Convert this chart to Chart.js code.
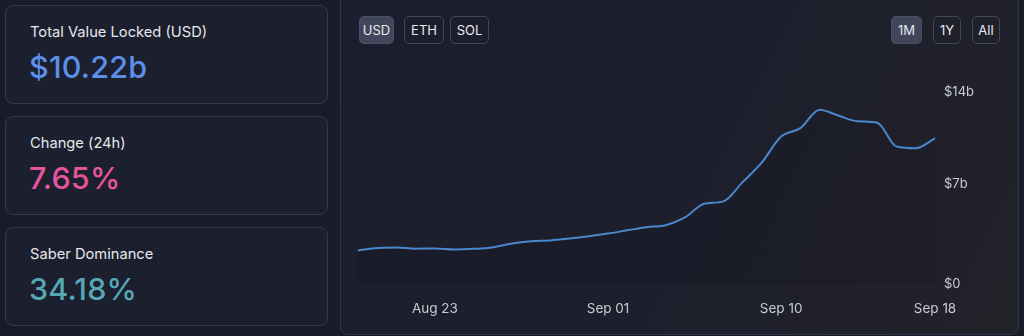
<!DOCTYPE html>
<html>
<head>
<meta charset="utf-8">
<script src="https://cdn.jsdelivr.net/npm/chart.js@4/dist/chart.umd.min.js"></script>
<style>
  html, body { margin: 0; padding: 0; }
  body {
    width: 1024px; height: 336px; overflow: hidden; position: relative;
    background: #191c28; font-family: Inter, "Noto Sans", sans-serif; color: #e4e5ea;
  }
  .card {
    position: absolute; left: 5px; width: 323px; height: 99px; box-sizing: border-box;
    border: 1px solid #343949; border-radius: 8px; background: #1c1f2d;
  }
  .card .lbl { position: absolute; left: 24px; top: 17px; font-size: 14.7px; color: #e6e7ec; }
  .card .val { position: absolute; left: 23px; top: 42px; font-size: 30.5px; font-weight: 500; letter-spacing: 0.2px; }
  .panel {
    position: absolute; left: 340px; top: -12px; width: 679px; height: 347px; box-sizing: border-box;
    border: 1px solid #30354a; border-radius: 8px;
    background: linear-gradient(115deg, #1b1e2d 0%, #1d1f2c 55%, #222229 100%);
  }
  .btn {
    position: absolute; top: 16px; height: 28px; box-sizing: border-box; line-height: 26px;
    border: 1px solid #434859; border-radius: 5px; font-size: 13px; color: #e8e9ee;
    text-align: center;
  }
  .btn.on { background: #41465a; border-color: #4b5064; }
  #wrap { position: absolute; left: 341px; top: 60px; width: 669px; height: 268px; }
</style>
</head>
<body>
<div class="card" style="top:5px"><div class="lbl">Total Value Locked (USD)</div><div class="val" style="color:#5b8fe9">$10.22b</div></div>
<div class="card" style="top:116px"><div class="lbl">Change (24h)</div><div class="val" style="color:#e6559b">7.65%</div></div>
<div class="card" style="top:227px"><div class="lbl">Saber Dominance</div><div class="val" style="color:#55a8b5">34.18%</div></div>

<div class="panel"></div>
<div class="btn on" style="left:359px;width:35px">USD</div>
<div class="btn" style="left:404px;width:40px">ETH</div>
<div class="btn" style="left:450px;width:39px">SOL</div>
<div class="btn on" style="left:891px;width:31px">1M</div>
<div class="btn" style="left:933px;width:28px">1Y</div>
<div class="btn" style="left:972px;width:28px">All</div>

<div id="wrap"><canvas id="tvl"></canvas></div>

<script>
const days = [
  'Aug 19', 'Aug 20', 'Aug 21', 'Aug 22', 'Aug 23', 'Aug 24', 'Aug 25', 'Aug 26',
  'Aug 27', 'Aug 28', 'Aug 29', 'Aug 30', 'Aug 31', 'Sep 01', 'Sep 02', 'Sep 03',
  'Sep 04', 'Sep 05', 'Sep 06', 'Sep 07', 'Sep 08', 'Sep 09', 'Sep 10', 'Sep 11',
  'Sep 12', 'Sep 13', 'Sep 14', 'Sep 15', 'Sep 16', 'Sep 17', 'Sep 18'
];
// TVL in billions USD
const tvl = [
  2.36, 2.53, 2.57, 2.48, 2.50, 2.43, 2.47, 2.57,
  2.85, 3.01, 3.06, 3.19, 3.35, 3.54, 3.77, 3.99,
  4.13, 4.67, 5.63, 5.80, 7.15, 8.54, 10.35, 10.94,
  12.24, 11.81, 11.42, 11.32, 9.65, 9.53, 10.23
];
const shownDays = ['Aug 23', 'Sep 01', 'Sep 10', 'Sep 18'];
const yTicks = [0, 7, 14];
const yLabels = ['$0', '$7b', '$14b'];

const tickColor = '#c9cbd3';

new Chart(document.getElementById('tvl'), {
  type: 'line',
  data: {
    labels: days,
    datasets: [{
      data: tvl,
      borderColor: '#4a87cc',
      borderWidth: 2,
      pointRadius: 0,
      cubicInterpolationMode: 'monotone',
      fill: 'origin',
      backgroundColor: 'rgba(8,9,14,0.11)'
    }]
  },
  options: {
    responsive: true,
    maintainAspectRatio: false,
    animation: false,
    layout: { padding: { left: 0, top: 22, right: 0, bottom: 0 } },
    plugins: { legend: { display: false }, tooltip: { enabled: false } },
    scales: {
      x: {
        offset: false,
        grid: { display: false, drawTicks: false },
        border: { display: false },
        afterFit: s => { s.height = 44; },
        ticks: {
          autoSkip: false, maxRotation: 0, padding: 17,
          color: tickColor, font: { family: 'Inter', size: 13.5 },
          callback: function (v) {
            const l = this.getLabelForValue(v);
            return shownDays.includes(l) ? l : '';
          }
        }
      },
      y: {
        position: 'right',
        min: 0, max: 14,
        grid: { display: false, drawTicks: false },
        border: { display: false },
        afterFit: s => { s.width = 75; },
        afterBuildTicks: s => { s.ticks = yTicks.map(v => ({ value: v })); },
        ticks: {
          padding: 9, color: tickColor, font: { family: 'Inter', size: 13 },
          callback: v => {
            const l = yLabels[yTicks.indexOf(v)];
            return v === 14 ? ['', l] : l;
          }
        }
      }
    }
  }
});
</script>
</body>
</html>
